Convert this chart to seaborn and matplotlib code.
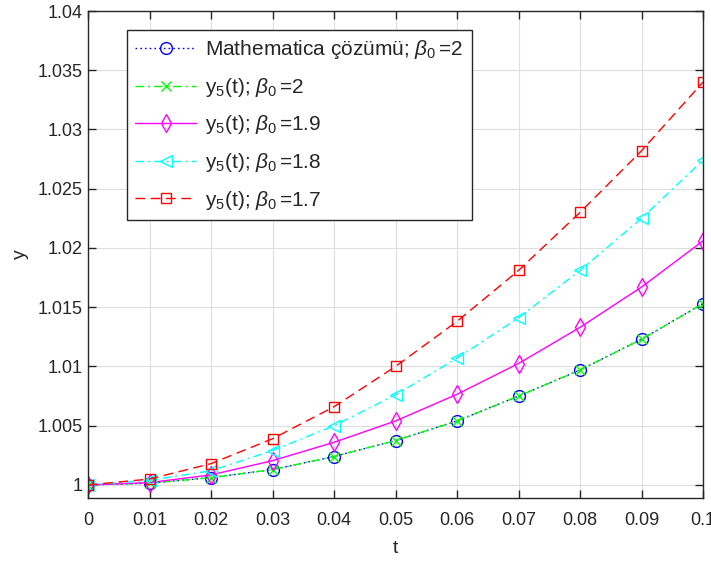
import matplotlib
matplotlib.use("Agg")
import matplotlib.pyplot as plt
import seaborn as sns
import numpy as np
import pandas as pd

# time grid
t = [0.0, 0.01, 0.02, 0.03, 0.04, 0.05, 0.06, 0.07, 0.08, 0.09, 0.10]

# solutions
y_mathematica = [1.0, 1.00015, 1.00062, 1.0013, 1.0024, 1.00375, 1.0054, 1.0075, 1.0097, 1.0123, 1.0153]
y5_b20 = [1.0, 1.00015, 1.00062, 1.0013, 1.0024, 1.00375, 1.0054, 1.0075, 1.0097, 1.0123, 1.0153]
y5_b19 = [1.0, 1.0002, 1.00085, 1.00205, 1.0036, 1.0054, 1.00765, 1.01025, 1.0133, 1.0167, 1.0206]
y5_b18 = [1.0, 1.0004, 1.0012, 1.0029, 1.0050, 1.0076, 1.0107, 1.0141, 1.0181, 1.0225, 1.0274]
y5_b17 = [1.0, 1.0005, 1.0018, 1.0039, 1.0066, 1.0100, 1.0138, 1.0181, 1.0230, 1.0282, 1.0340]

labels = [
    r"Mathematica çözümü; $\beta_0\,$=2",
    r"y$_5$(t); $\beta_0\,$=2",
    r"y$_5$(t); $\beta_0\,$=1.9",
    r"y$_5$(t); $\beta_0\,$=1.8",
    r"y$_5$(t); $\beta_0\,$=1.7",
]
x_ticks = [0, 0.01, 0.02, 0.03, 0.04, 0.05, 0.06, 0.07, 0.08, 0.09, 0.1]
x_ticklabels = ["0", "0.01", "0.02", "0.03", "0.04", "0.05", "0.06", "0.07", "0.08", "0.09", "0.1"]
y_ticks = [1.0, 1.005, 1.01, 1.015, 1.02, 1.025, 1.03, 1.035, 1.04]
y_ticklabels = ["1", "1.005", "1.01", "1.015", "1.02", "1.025", "1.03", "1.035", "1.04"]

sns.set_theme(style="white")
plt.rcParams["font.family"] = ["Liberation Sans", "DejaVu Sans"]
plt.rcParams["mathtext.fontset"] = "custom"
plt.rcParams["mathtext.rm"] = "Liberation Sans"
plt.rcParams["mathtext.it"] = "Liberation Sans:italic"

axis_col = "#262626"

fig = plt.figure(figsize=(7.11, 5.61), dpi=100)
ax = fig.add_axes([88 / 711, 1 - 498 / 561, 615 / 711, 487 / 561])

# colour, dash pattern, marker, marker size
series = [
    (y_mathematica, (0, 0, 1), (0, (1.2, 2.2)), "o", 8.5),
    (y5_b20, (0, 1, 0), (0, (6, 3, 1.5, 3)), "x", 7.5),
    (y5_b19, (1, 0, 1), "-", "d", 9.0),
    (y5_b18, (0, 1, 1), (0, (6, 3, 1.5, 3)), "<", 8.5),
    (y5_b17, (1, 0, 0), (0, (7, 4)), "s", 7.5),
]

for (vals, col, ls, mk, ms), lab in zip(series, labels):
    df = pd.DataFrame({"t": t, "y": vals})
    sns.lineplot(
        data=df, x="t", y="y", ax=ax, color=col, linestyle=ls, linewidth=1.0,
        marker=mk, markersize=ms, markerfacecolor="none",
        markeredgecolor=col, markeredgewidth=1.0, label=lab,
    )

ax.set_xlim(0, 0.1)
ax.set_ylim(0.9989, 1.04)
ax.set_xticks(x_ticks)
ax.set_xticklabels(x_ticklabels)
ax.set_yticks(y_ticks)
ax.set_yticklabels(y_ticklabels)

ax.grid(True, color="#dedede", linewidth=0.8)
for sp in ax.spines.values():
    sp.set_visible(True)
    sp.set_color(axis_col)
    sp.set_linewidth(1.0)

ax.tick_params(axis="both", direction="in", length=6, width=1.0, colors=axis_col,
               labelsize=13, labelcolor=axis_col, top=True, right=True,
               bottom=True, left=True)
ax.tick_params(axis="x", pad=10)
ax.tick_params(axis="y", pad=4)

ax.set_xlabel("t", fontsize=14, color=axis_col, labelpad=8)
ax.set_ylabel("y", fontsize=14, color=axis_col, labelpad=6)

leg = ax.legend(
    loc="upper left", bbox_to_anchor=((127 - 88) / 615, (498 - 30) / 487),
    borderaxespad=0, fontsize=15, frameon=True, fancybox=False,
    edgecolor=axis_col, framealpha=1, handlelength=2.9, handletextpad=0.45,
    labelspacing=0.7, borderpad=0.4,
)
leg.get_frame().set_linewidth(1.0)

fig.savefig("out.png", dpi=100)
